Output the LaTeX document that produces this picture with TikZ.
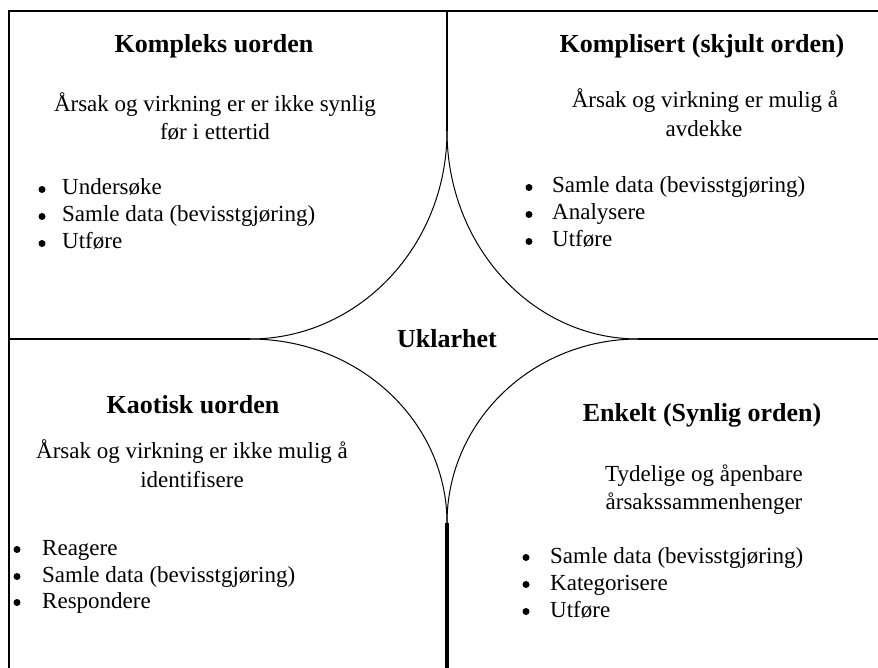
\documentclass[tikz,border=0pt]{standalone}
\usepackage{fontspec}
\setmainfont{Liberation Serif}
\usetikzlibrary{calc}
% control-point factor for a quarter ellipse drawn as one cubic Bezier
\newcommand{\bezk}{0.5523}
\tikzset{
  frame/.style={line width=2pt, line join=miter},
  divider/.style={line width=2pt},
  heavy/.style={line width=4pt},
  curve/.style={line width=1pt},
  headline/.style={anchor=base, inner sep=0pt, font=\fontsize{26}{31}\selectfont\bfseries},
  bodyline/.style={anchor=base, inner sep=0pt, font=\fontsize{23}{28}\selectfont},
  itemline/.style={anchor=base west, inner sep=0pt, font=\fontsize{23}{28}\selectfont},
  dot/.style={circle, fill=black, draw=none, inner sep=0pt, minimum size=7pt},
}
\begin{document}
\begin{tikzpicture}[x=1pt, y=-1pt]
\useasboundingbox (0,0) rectangle (878,668);

% frame corners and the four cusps of the central star
\coordinate (bl) at (9,672);
\coordinate (tl) at (9,11);
\coordinate (tr) at (882,11);
\coordinate (topmid) at (447,11);
\coordinate (botmid) at (447,672);
\coordinate (leftmid) at (9,339);
\coordinate (rightmid) at (882,339);
\coordinate (tcusp) at (447,131);
\coordinate (lcusp) at (250,339);
\coordinate (rcusp) at (638,339);
\coordinate (bcusp) at (447,523);
\coordinate (mid) at (447,339);

% outer frame (left and top edges)
\draw[frame] (bl) -- (tl) -- (tr);

% quadrant dividers
\draw[divider] (topmid) -- (tcusp);
\draw[divider] (leftmid) -- (lcusp);
\draw[divider] (rcusp) -- (rightmid);
\draw[heavy] (bcusp) -- (botmid);

% concave star round the centre
\draw[curve] (tcusp) .. controls ($(tcusp)!\bezk!(mid)$) and ($(lcusp)!\bezk!(mid)$) .. (lcusp);
\draw[curve] (tcusp) .. controls ($(tcusp)!\bezk!(mid)$) and ($(rcusp)!\bezk!(mid)$) .. (rcusp);
\draw[curve] (bcusp) .. controls ($(bcusp)!\bezk!(mid)$) and ($(lcusp)!\bezk!(mid)$) .. (lcusp);
\draw[curve] (bcusp) .. controls ($(bcusp)!\bezk!(mid)$) and ($(rcusp)!\bezk!(mid)$) .. (rcusp);

% centre label
\node[headline] (centre) at (447,347) {Uklarhet};

% top left quadrant
\node[headline] (h1) at (214,53) {Kompleks uorden};
\node[bodyline] (d1a) at (215,112) {Årsak og virkning er er ikke synlig};
\node[bodyline] (d1b) at (215,140) {før i ettertid};
\node[dot] (p1a) at (42,189.5) {};
\node[itemline] (i1a) at (62,195) {Undersøke};
\node[dot] (p1b) at (42,216.5) {};
\node[itemline] (i1b) at (62,222) {Samle data (bevisstgjøring)};
\node[dot] (p1c) at (42,243.5) {};
\node[itemline] (i1c) at (62,249) {Utføre};

% top right quadrant
\node[headline] (h2) at (702,53) {Komplisert (skjult orden)};
\node[bodyline] (d2a) at (705,108) {Årsak og virkning er mulig å};
\node[bodyline] (d2b) at (704,137) {avdekke};
\node[dot] (p2a) at (529,187.5) {};
\node[itemline] (i2a) at (552,193) {Samle data (bevisstgjøring)};
\node[dot] (p2b) at (529,214.5) {};
\node[itemline] (i2b) at (552,220) {Analysere};
\node[dot] (p2c) at (529,241.5) {};
\node[itemline] (i2c) at (552,247) {Utføre};

% bottom left quadrant
\node[headline] (h3) at (193,413) {Kaotisk uorden};
\node[bodyline] (d3a) at (192,458) {Årsak og virkning er ikke mulig å};
\node[bodyline] (d3b) at (192,487) {identifisere};
\node[dot] (p3a) at (17,549.5) {};
\node[itemline] (i3a) at (42,555) {Reagere};
\node[dot] (p3b) at (17,576.5) {};
\node[itemline] (i3b) at (42,582) {Samle data (bevisstgjøring)};
\node[dot] (p3c) at (17,602.5) {};
\node[itemline] (i3c) at (42,608) {Respondere};

% bottom right quadrant
\node[headline] (h4) at (702,421) {Enkelt (Synlig orden)};
\node[bodyline] (d4a) at (704,481) {Tydelige og åpenbare};
\node[bodyline] (d4b) at (704,509) {årsakssammenhenger};
\node[dot] (p4a) at (526,557.5) {};
\node[itemline] (i4a) at (550,563) {Samle data (bevisstgjøring)};
\node[dot] (p4b) at (526,584.5) {};
\node[itemline] (i4b) at (550,590) {Kategorisere};
\node[dot] (p4c) at (526,611.5) {};
\node[itemline] (i4c) at (550,617) {Utføre};
\end{tikzpicture}
\end{document}
